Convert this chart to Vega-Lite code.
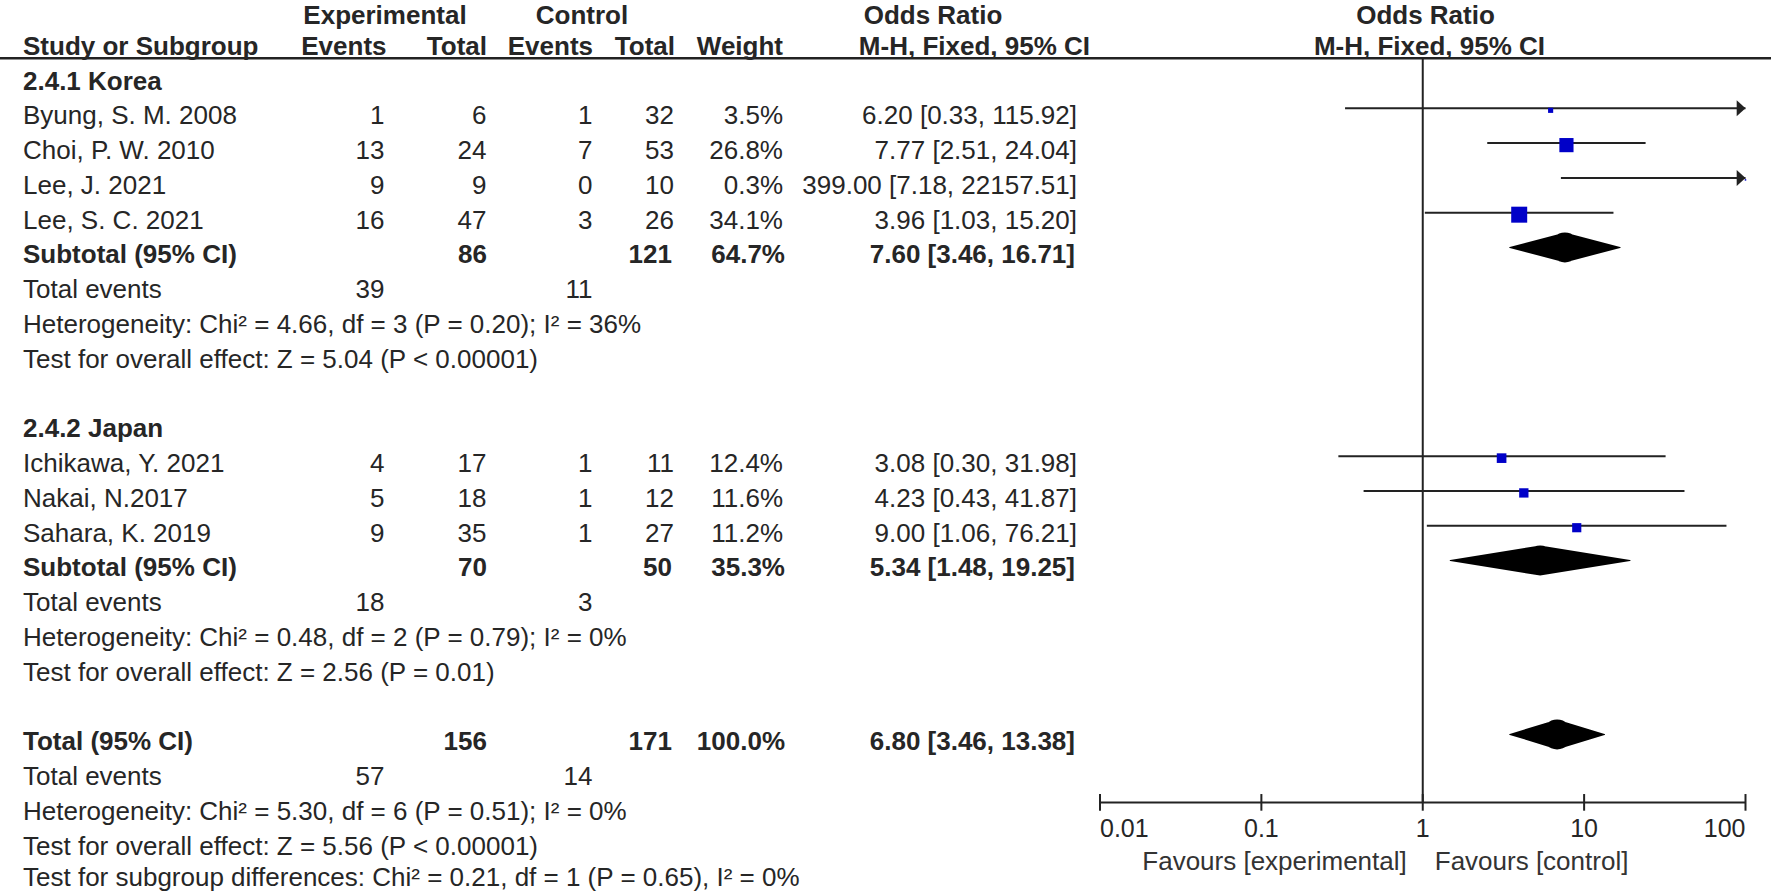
{
  "$schema": "https://vega.github.io/schema/vega-lite/v6.json",
  "width": 1771,
  "height": 891,
  "autosize": {"type": "none"},
  "padding": 0,
  "background": "white",
  "config": {
    "view": {"stroke": null},
    "axis": {"disable": true},
    "legend": {"disable": true},
    "text": {"font": "Liberation Sans", "fontSize": 26, "baseline": "middle", "color": "#262626"}
  },
  "datasets": {
    "rows": [
      {"row": 2, "type": "group", "label": "2.4.1 Korea"},
      {"row": 3, "type": "study", "label": "Byung, S. M. 2008", "ee": 1, "et": 6, "ce": 1, "ct": 32, "wt": 0.035, "ci": "6.20 [0.33, 115.92]", "or": 6.20, "lo": 0.33, "hi": 115.92},
      {"row": 4, "type": "study", "label": "Choi, P. W. 2010", "ee": 13, "et": 24, "ce": 7, "ct": 53, "wt": 0.268, "ci": "7.77 [2.51, 24.04]", "or": 7.77, "lo": 2.51, "hi": 24.04},
      {"row": 5, "type": "study", "label": "Lee, J. 2021", "ee": 9, "et": 9, "ce": 0, "ct": 10, "wt": 0.003, "ci": "399.00 [7.18, 22157.51]", "or": 399.00, "lo": 7.18, "hi": 22157.51},
      {"row": 6, "type": "study", "label": "Lee, S. C. 2021", "ee": 16, "et": 47, "ce": 3, "ct": 26, "wt": 0.341, "ci": "3.96 [1.03, 15.20]", "or": 3.96, "lo": 1.03, "hi": 15.20},
      {"row": 7, "type": "subtotal", "label": "Subtotal (95% CI)", "et": 86, "ct": 121, "wt": 0.647, "ci": "7.60 [3.46, 16.71]", "or": 7.60, "lo": 3.46, "hi": 16.71},
      {"row": 8, "type": "te", "label": "Total events", "ee": 39, "ce": 11},
      {"row": 9, "type": "note", "label": "Heterogeneity: Chi² = 4.66, df = 3 (P = 0.20); I² = 36%"},
      {"row": 10, "type": "note", "label": "Test for overall effect: Z = 5.04 (P < 0.00001)"},
      {"row": 12, "type": "group", "label": "2.4.2 Japan"},
      {"row": 13, "type": "study", "label": "Ichikawa, Y. 2021", "ee": 4, "et": 17, "ce": 1, "ct": 11, "wt": 0.124, "ci": "3.08 [0.30, 31.98]", "or": 3.08, "lo": 0.30, "hi": 31.98},
      {"row": 14, "type": "study", "label": "Nakai, N.2017", "ee": 5, "et": 18, "ce": 1, "ct": 12, "wt": 0.116, "ci": "4.23 [0.43, 41.87]", "or": 4.23, "lo": 0.43, "hi": 41.87},
      {"row": 15, "type": "study", "label": "Sahara, K. 2019", "ee": 9, "et": 35, "ce": 1, "ct": 27, "wt": 0.112, "ci": "9.00 [1.06, 76.21]", "or": 9.00, "lo": 1.06, "hi": 76.21},
      {"row": 16, "type": "subtotal", "label": "Subtotal (95% CI)", "et": 70, "ct": 50, "wt": 0.353, "ci": "5.34 [1.48, 19.25]", "or": 5.34, "lo": 1.48, "hi": 19.25},
      {"row": 17, "type": "te", "label": "Total events", "ee": 18, "ce": 3},
      {"row": 18, "type": "note", "label": "Heterogeneity: Chi² = 0.48, df = 2 (P = 0.79); I² = 0%"},
      {"row": 19, "type": "note", "label": "Test for overall effect: Z = 2.56 (P = 0.01)"},
      {"row": 21, "type": "total", "label": "Total (95% CI)", "et": 156, "ct": 171, "wt": 1.0, "ci": "6.80 [3.46, 13.38]", "or": 6.80, "lo": 3.46, "hi": 13.38},
      {"row": 22, "type": "te", "label": "Total events", "ee": 57, "ce": 14},
      {"row": 23, "type": "note", "label": "Heterogeneity: Chi² = 5.30, df = 6 (P = 0.51); I² = 0%"},
      {"row": 24, "type": "note", "label": "Test for overall effect: Z = 5.56 (P < 0.00001)"},
      {"row": 25, "type": "last", "label": "Test for subgroup differences: Chi² = 0.21, df = 1 (P = 0.65), I² = 0%"}
    ],
    "ticks": [
      {"v": 0.01, "lab": "0.01"},
      {"v": 0.1, "lab": "0.1"},
      {"v": 1, "lab": "1"},
      {"v": 10, "lab": "10"},
      {"v": 100, "lab": "100"}
    ],
    "one": [{}]
  },
  "resolve": {"scale": {"x": "independent"}},
  "layer": [
    {
      "layer": [
        {
          "data": {"name": "one"},
          "mark": {"type": "rule", "color": "#222222", "strokeWidth": 2.5},
          "encoding": {
            "x": {"datum": 0, "type": "quantitative", "scale": {"domain": [0, 1771], "nice": false, "zero": false}},
            "x2": {"datum": 1771},
            "y": {"datum": 1.331, "type": "quantitative", "scale": {"domain": [-0.345, 25.273], "reverse": true, "nice": false, "zero": false}}
          }
        },
        {"data": {"name": "one"}, "mark": {"type": "text", "text": "Experimental", "align": "center", "fontWeight": "bold", "dy": 4}, "encoding": {"x": {"datum": 385}, "y": {"datum": 0}}},
        {"data": {"name": "one"}, "mark": {"type": "text", "text": "Control", "align": "center", "fontWeight": "bold", "dy": 4}, "encoding": {"x": {"datum": 582}, "y": {"datum": 0}}},
        {"data": {"name": "one"}, "mark": {"type": "text", "text": "Odds Ratio", "align": "center", "fontWeight": "bold", "dy": 4}, "encoding": {"x": {"datum": 933}, "y": {"datum": 0}}},
        {"data": {"name": "one"}, "mark": {"type": "text", "text": "Odds Ratio", "align": "center", "fontWeight": "bold", "dy": 4}, "encoding": {"x": {"datum": 1425.5}, "y": {"datum": 0}}},
        {"data": {"name": "one"}, "mark": {"type": "text", "text": "Study or Subgroup", "align": "left", "fontWeight": "bold"}, "encoding": {"x": {"datum": 23}, "y": {"datum": 1}}},
        {"data": {"name": "one"}, "mark": {"type": "text", "text": "Events", "align": "right", "fontWeight": "bold"}, "encoding": {"x": {"datum": 386.5}, "y": {"datum": 1}}},
        {"data": {"name": "one"}, "mark": {"type": "text", "text": "Total", "align": "right", "fontWeight": "bold"}, "encoding": {"x": {"datum": 487}, "y": {"datum": 1}}},
        {"data": {"name": "one"}, "mark": {"type": "text", "text": "Events", "align": "right", "fontWeight": "bold"}, "encoding": {"x": {"datum": 593}, "y": {"datum": 1}}},
        {"data": {"name": "one"}, "mark": {"type": "text", "text": "Total", "align": "right", "fontWeight": "bold"}, "encoding": {"x": {"datum": 675}, "y": {"datum": 1}}},
        {"data": {"name": "one"}, "mark": {"type": "text", "text": "Weight", "align": "right", "fontWeight": "bold"}, "encoding": {"x": {"datum": 783}, "y": {"datum": 1}}},
        {"data": {"name": "one"}, "mark": {"type": "text", "text": "M-H, Fixed, 95% CI", "align": "right", "fontWeight": "bold"}, "encoding": {"x": {"datum": 1090}, "y": {"datum": 1}}},
        {"data": {"name": "one"}, "mark": {"type": "text", "text": "M-H, Fixed, 95% CI", "align": "center", "fontWeight": "bold"}, "encoding": {"x": {"datum": 1429.5}, "y": {"datum": 1}}},
        {
          "data": {"name": "rows"},
          "transform": [{"filter": "datum.type == 'study' || datum.type == 'te' || datum.type == 'note'"}],
          "mark": {"type": "text", "align": "left"},
          "encoding": {"x": {"datum": 23}, "y": {"field": "row", "type": "quantitative"}, "text": {"field": "label"}}
        },
        {
          "data": {"name": "rows"},
          "transform": [{"filter": "datum.type == 'last'"}],
          "mark": {"type": "text", "align": "left", "dy": -4},
          "encoding": {"x": {"datum": 23}, "y": {"field": "row", "type": "quantitative"}, "text": {"field": "label"}}
        },
        {
          "data": {"name": "rows"},
          "transform": [{"filter": "datum.type == 'group' || datum.type == 'subtotal' || datum.type == 'total'"}],
          "mark": {"type": "text", "align": "left", "fontWeight": "bold"},
          "encoding": {"x": {"datum": 23}, "y": {"field": "row", "type": "quantitative"}, "text": {"field": "label"}}
        },
        {
          "data": {"name": "rows"},
          "transform": [{"filter": "isValid(datum.ee)"}],
          "mark": {"type": "text", "align": "right"},
          "encoding": {"x": {"datum": 384.5}, "y": {"field": "row", "type": "quantitative"}, "text": {"field": "ee", "type": "quantitative"}}
        },
        {
          "data": {"name": "rows"},
          "transform": [{"filter": "datum.type == 'study'"}],
          "mark": {"type": "text", "align": "right"},
          "encoding": {"x": {"datum": 486.5}, "y": {"field": "row", "type": "quantitative"}, "text": {"field": "et", "type": "quantitative"}}
        },
        {
          "data": {"name": "rows"},
          "transform": [{"filter": "isValid(datum.ce)"}],
          "mark": {"type": "text", "align": "right"},
          "encoding": {"x": {"datum": 592.5}, "y": {"field": "row", "type": "quantitative"}, "text": {"field": "ce", "type": "quantitative"}}
        },
        {
          "data": {"name": "rows"},
          "transform": [{"filter": "datum.type == 'study'"}],
          "mark": {"type": "text", "align": "right"},
          "encoding": {"x": {"datum": 674}, "y": {"field": "row", "type": "quantitative"}, "text": {"field": "ct", "type": "quantitative"}}
        },
        {
          "data": {"name": "rows"},
          "transform": [{"filter": "datum.type == 'study'"}],
          "mark": {"type": "text", "align": "right"},
          "encoding": {"x": {"datum": 783}, "y": {"field": "row", "type": "quantitative"}, "text": {"field": "wt", "type": "quantitative", "format": ".1%"}}
        },
        {
          "data": {"name": "rows"},
          "transform": [{"filter": "datum.type == 'study'"}],
          "mark": {"type": "text", "align": "right"},
          "encoding": {"x": {"datum": 1077}, "y": {"field": "row", "type": "quantitative"}, "text": {"field": "ci"}}
        },
        {
          "data": {"name": "rows"},
          "transform": [{"filter": "datum.type == 'subtotal' || datum.type == 'total'"}],
          "mark": {"type": "text", "align": "right", "fontWeight": "bold"},
          "encoding": {"x": {"datum": 487}, "y": {"field": "row", "type": "quantitative"}, "text": {"field": "et", "type": "quantitative"}}
        },
        {
          "data": {"name": "rows"},
          "transform": [{"filter": "datum.type == 'subtotal' || datum.type == 'total'"}],
          "mark": {"type": "text", "align": "right", "fontWeight": "bold"},
          "encoding": {"x": {"datum": 672}, "y": {"field": "row", "type": "quantitative"}, "text": {"field": "ct", "type": "quantitative"}}
        },
        {
          "data": {"name": "rows"},
          "transform": [{"filter": "datum.type == 'subtotal' || datum.type == 'total'"}],
          "mark": {"type": "text", "align": "right", "fontWeight": "bold"},
          "encoding": {"x": {"datum": 785}, "y": {"field": "row", "type": "quantitative"}, "text": {"field": "wt", "type": "quantitative", "format": ".1%"}}
        },
        {
          "data": {"name": "rows"},
          "transform": [{"filter": "datum.type == 'subtotal' || datum.type == 'total'"}],
          "mark": {"type": "text", "align": "right", "fontWeight": "bold"},
          "encoding": {"x": {"datum": 1075}, "y": {"field": "row", "type": "quantitative"}, "text": {"field": "ci"}}
        }
      ]
    },
    {
      "resolve": {"scale": {"size": "independent"}},
      "layer": [
        {
          "data": {"name": "one"},
          "mark": {"type": "rule", "color": "#222222", "strokeWidth": 2},
          "encoding": {
            "x": {"datum": 1, "type": "quantitative", "scale": {"type": "log", "domain": [0.01, 100], "range": [1100, 1745.5], "clamp": true, "nice": false}},
            "y": {"datum": 1.331, "type": "quantitative"},
            "y2": {"datum": 22.73}
          }
        },
        {
          "data": {"name": "rows"},
          "transform": [{"filter": "datum.type == 'study'"}],
          "mark": {"type": "rule", "color": "#222222", "strokeWidth": 2, "yOffset": -8},
          "encoding": {
            "x": {"field": "lo", "type": "quantitative"},
            "x2": {"field": "hi"},
            "y": {"field": "row", "type": "quantitative"}
          }
        },
        {
          "data": {"name": "rows"},
          "transform": [{"filter": "datum.type == 'study' && datum.hi > 100"}],
          "mark": {"type": "point", "shape": "M0,0L-1.1,-1L-1.1,1Z", "size": 256, "filled": true, "color": "#222222", "opacity": 1, "yOffset": -8},
          "encoding": {
            "x": {"field": "hi", "type": "quantitative"},
            "y": {"field": "row", "type": "quantitative"}
          }
        },
        {
          "data": {"name": "rows"},
          "transform": [{"filter": "datum.type == 'study'"}],
          "mark": {"type": "point", "shape": "square", "filled": true, "color": "#0000c8", "opacity": 1, "yOffset": -6},
          "encoding": {
            "x": {"field": "or", "type": "quantitative"},
            "y": {"field": "row", "type": "quantitative"},
            "size": {"field": "wt", "type": "quantitative", "scale": {"type": "linear", "domain": [0, 1], "range": [0, 750], "zero": true}}
          }
        },
        {
          "data": {"name": "rows"},
          "transform": [
            {"filter": "datum.type == 'subtotal' || datum.type == 'total'"},
            {"fold": ["lo", "or", "hi"], "as": ["k", "v"]}
          ],
          "mark": {"type": "trail", "color": "black", "yOffset": -8},
          "encoding": {
            "x": {"field": "v", "type": "quantitative"},
            "y": {"field": "row", "type": "quantitative"},
            "size": {"field": "k", "type": "nominal", "scale": {"type": "ordinal", "domain": ["lo", "or", "hi"], "range": [0, 30, 0]}},
            "detail": {"field": "row", "type": "nominal"},
            "order": {"field": "v", "type": "quantitative"}
          }
        },
        {
          "data": {"name": "one"},
          "mark": {"type": "rule", "color": "#222222", "strokeWidth": 2},
          "encoding": {
            "x": {"datum": 0.01},
            "x2": {"datum": 100},
            "y": {"datum": 22.73, "type": "quantitative"}
          }
        },
        {
          "data": {"name": "ticks"},
          "mark": {"type": "rule", "color": "#222222", "strokeWidth": 2},
          "encoding": {
            "x": {"field": "v", "type": "quantitative"},
            "y": {"datum": 22.485, "type": "quantitative"},
            "y2": {"datum": 22.964}
          }
        },
        {
          "data": {"name": "ticks"},
          "transform": [{"filter": "datum.v == 0.01"}],
          "mark": {"type": "text", "align": "left", "fontSize": 25},
          "encoding": {"x": {"field": "v", "type": "quantitative"}, "y": {"datum": 23.48, "type": "quantitative"}, "text": {"field": "lab"}}
        },
        {
          "data": {"name": "ticks"},
          "transform": [{"filter": "datum.v > 0.01 && datum.v < 100"}],
          "mark": {"type": "text", "align": "center", "fontSize": 25},
          "encoding": {"x": {"field": "v", "type": "quantitative"}, "y": {"datum": 23.48, "type": "quantitative"}, "text": {"field": "lab"}}
        },
        {
          "data": {"name": "ticks"},
          "transform": [{"filter": "datum.v == 100"}],
          "mark": {"type": "text", "align": "right", "fontSize": 25},
          "encoding": {"x": {"field": "v", "type": "quantitative"}, "y": {"datum": 23.48, "type": "quantitative"}, "text": {"field": "lab"}}
        },
        {
          "data": {"name": "one"},
          "mark": {"type": "text", "text": "Favours [experimental]", "align": "right", "dx": -16, "fontSize": 26, "color": "#333333"},
          "encoding": {"x": {"datum": 1}, "y": {"datum": 24.43, "type": "quantitative"}}
        },
        {
          "data": {"name": "one"},
          "mark": {"type": "text", "text": "Favours [control]", "align": "left", "dx": 12, "fontSize": 26, "color": "#333333"},
          "encoding": {"x": {"datum": 1}, "y": {"datum": 24.43, "type": "quantitative"}}
        }
      ]
    }
  ]
}
